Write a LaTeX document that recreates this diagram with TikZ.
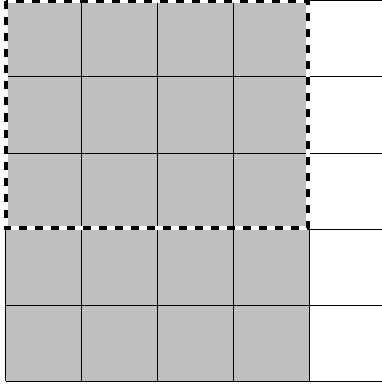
\documentclass[tikz,border=0pt]{standalone}
\begin{document}
\begin{tikzpicture}[x=1pt,y=-1pt,
  gridline/.style={black,line width=1pt},
  dashborder/.style={black,line width=4pt,dash pattern=on 8pt off 8pt},
  whiteborder/.style={white,line width=4pt}]
\useasboundingbox (0,0) rectangle (382,385);
\begin{scope}
\clip (0,0) rectangle (382,385);
\fill[gray!50] (5.5,1) rectangle (309.5,381);
\foreach \y in {1,77,153,229,305,381} \draw[gridline] (5.5,\y) -- (390,\y);
\foreach \x in {5.5,81.5,157.5,233.5,309.5} \draw[gridline] (\x,1) -- (\x,381);
\draw[whiteborder] (5.5,1.5) rectangle (308,228);
\draw[dashborder] (5.5,1.5) rectangle (308,228);
\end{scope}
\end{tikzpicture}
\end{document}
